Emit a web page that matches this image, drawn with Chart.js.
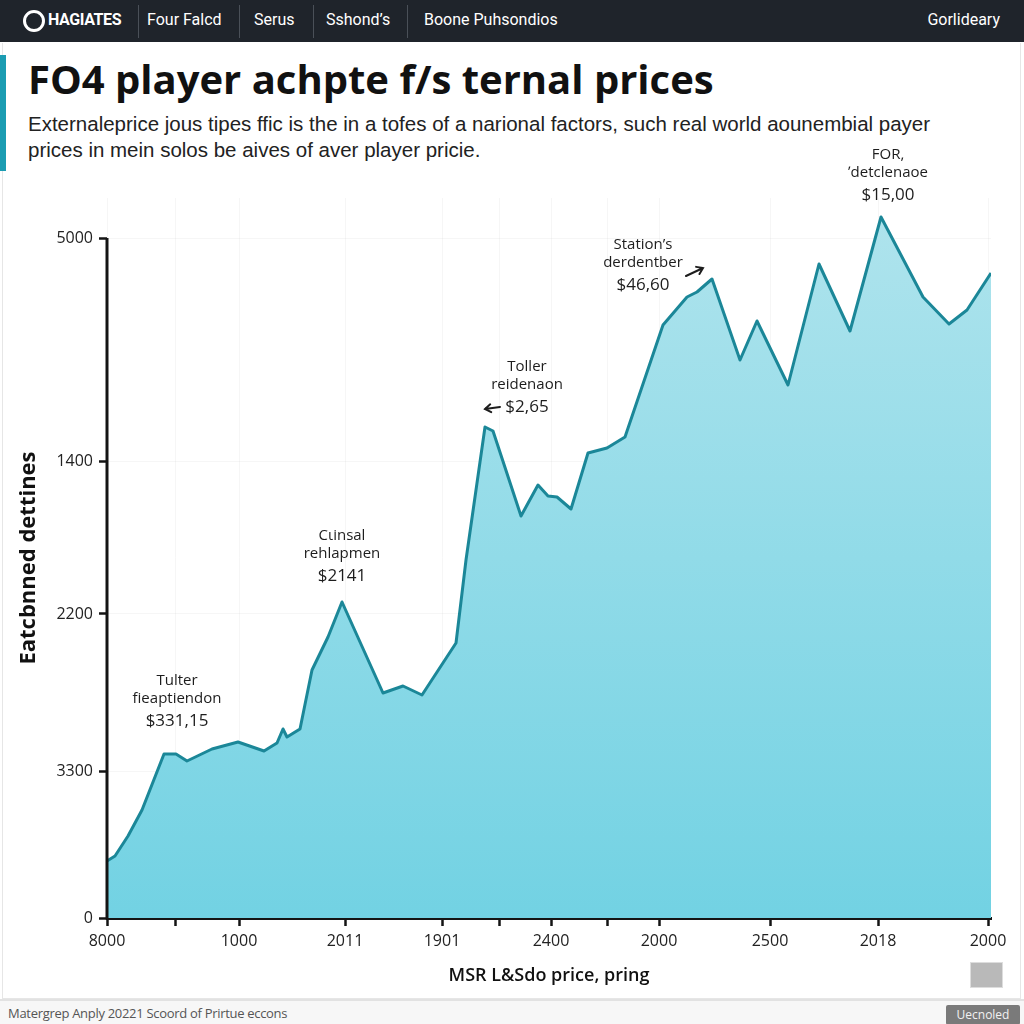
<!DOCTYPE html>
<html>
<head>
<meta charset="utf-8">
<script src="https://cdn.jsdelivr.net/npm/chart.js"></script>
<style>
html, body { margin: 0; padding: 0; }
body { width: 1024px; height: 1024px; position: relative; overflow: hidden; background: #fff; font-family: "Open Sans", sans-serif; }
#topbar { position: absolute; left: 0; top: 0; width: 1024px; height: 42px; background: #1f242b; color: #fff; font-family: Roboto, sans-serif; font-size: 16px; }
#topbar span { position: absolute; top: 0; line-height: 40px; white-space: nowrap; }
#topbar .sep { position: absolute; top: 5px; width: 1px; height: 33px; background: #4a5058; }
#logo { position: absolute; left: 23px; top: 10px; width: 16px; height: 16px; border: 3px solid #fff; border-radius: 50%; }
#panel { position: absolute; left: 2px; top: 43px; width: 1017px; height: 955px; border: 1px solid #e6e6e6; border-top: none; }
#accent { position: absolute; left: 0; top: 55px; width: 6px; height: 116px; background: #1b9cb2; }
#title { position: absolute; left: 28px; top: 51px; font-size: 40px; font-weight: 700; color: #111; letter-spacing: 0; white-space: nowrap; }
#sub { position: absolute; left: 28px; top: 111px; font-family: "Liberation Sans", Arial, sans-serif; font-size: 20.5px; line-height: 26px; color: #222; white-space: nowrap; }
#wrap { position: absolute; left: 0; top: 140px; width: 1024px; height: 850px; }
#icon { position: absolute; left: 970px; top: 962px; width: 31px; height: 24px; background: #b9b9b9; border: 1px solid #ddd; }
#foot { position: absolute; left: 0; top: 999px; width: 1024px; height: 25px; background: #f7f7f7; border-top: 2px solid #e2e2e2; }
#foot .txt { position: absolute; left: 8px; top: 3px; font-size: 13px; color: #555; letter-spacing: -0.3px; }
#foot .btn { position: absolute; left: 946px; top: 4px; width: 74px; height: 20px; background: #7a7a7a; color: #f2f2f2; font-size: 12px; text-align: center; line-height: 20px; border-radius: 2px; }
</style>
</head>
<body>
<div id="topbar">
  <div id="logo"></div>
  <span style="left:48px;font-weight:700;letter-spacing:-0.4px;">HAGIATES</span>
  <div class="sep" style="left:138px"></div>
  <span style="left:147px">Four Falcd</span>
  <div class="sep" style="left:239px"></div>
  <span style="left:254px">Serus</span>
  <div class="sep" style="left:313px"></div>
  <span style="left:326px">Sshond’s</span>
  <div class="sep" style="left:407px"></div>
  <span style="left:424px">Boone Puhsondios</span>
  <span style="right:24px">Gorlideary</span>
</div>
<div id="panel"></div>
<div id="accent"></div>
<div id="title">FO4 player achpte f/s ternal prices</div>
<div id="sub">Externaleprice jous tipes ffic is the in a tofes of a narional factors, such real world aounembial payer<br>prices in mein solos be aives of aver player pricie.</div>
<div id="wrap"><canvas id="lineChart"></canvas></div>
<div id="icon"></div>
<div id="foot">
  <div class="txt">Matergrep Anply 20221 Scoord of Prirtue eccons</div>
  <div class="btn">Uecnoled</div>
</div>
<script>
// price line
const priceX = [0, 8, 21, 35, 57, 69, 80, 105, 131, 157, 170, 176, 180, 193, 205, 221, 235, 276, 296, 315,
    349, 359, 378, 386, 414, 431, 441, 450, 464, 481, 500, 518, 556, 580, 590, 605, 633, 650, 681, 712,
    743, 774, 816, 842, 860, 884];
const priceY = [57, 62, 82, 108, 164, 164, 157, 169, 176, 167, 175, 189, 181, 189, 248, 281, 316, 225, 232, 223,
    275, 358, 491, 487, 402, 433, 422, 421, 409, 465, 470, 481, 593, 621, 626, 639, 558, 597, 533, 654,
    587, 701, 621, 594, 608, 645];

// axis ticks (the labels are not in order on the source chart)
const xTickPos = [0, 68, 132, 238, 335, 392, 444, 500, 552, 663, 771, 881];
const xTickLabels = ['8000', '', '1000', '2011', '1901', '', '2400', '', '2000', '2500', '2018', '2000'];
const yTickPos = [0, 147, 304, 457, 680];
const yTickLabels = ['0', '3300', '2200', '1400', '5000'];

// callouts, tied to a point index
const noteIndex = [4, 16, 22, 35, 41];
const noteText = [
    ['Tulter', 'fieaptiendon', '$331,15'],
    ['Cιinsal', 'rehlapmen', '$2141'],
    ['Toller', 'reidenaon', '$2,65'],
    ['Station’s', 'derdentber', '$46,60'],
    ['FOR,', '\u02BCdetclenaoe', '$15,00']
];

const points = priceX.map((x, i) => ({ x: x, y: priceY[i] }));

// where each callout sits relative to its point
const noteLayout = [
    { dx: 13, dy: -33 },
    { dx: 0, dy: -26 },
    { dx: 42, dy: -20, arrow: [15, -20, 0, -18] },
    { dx: -69, dy: 6, arrow: [-26, -3, -9, -11] },
    { dx: 7, dy: -22 }
];

const calloutPlugin = {
    id: 'callouts',
    afterDatasetsDraw(chart) {
        const ctx = chart.ctx;
        const meta = chart.getDatasetMeta(0);
        ctx.save();
        ctx.fillStyle = '#1d1d1d';
        ctx.textAlign = 'center';
        ctx.textBaseline = 'middle';
        noteIndex.forEach((idx, n) => {
            const pt = meta.data[idx];
            const lay = noteLayout[n];
            const cx = pt.x + lay.dx;
            const cy = pt.y + lay.dy;
            const lines = noteText[n];
            ctx.font = '15px "Open Sans"';
            ctx.fillText(lines[0], cx, cy - 40);
            ctx.fillText(lines[1], cx, cy - 22);
            ctx.font = '17px "Open Sans"';
            ctx.fillText(lines[2], cx, cy);
            if (lay.arrow) {
                const [x1, y1, x2, y2] = lay.arrow;
                const ax = pt.x + x1, ay = pt.y + y1, bx = pt.x + x2, by = pt.y + y2;
                const ang = Math.atan2(by - ay, bx - ax);
                ctx.strokeStyle = '#1d1d1d';
                ctx.lineWidth = 2;
                ctx.lineCap = 'round';
                ctx.beginPath();
                ctx.moveTo(ax, ay);
                ctx.lineTo(bx, by);
                ctx.moveTo(bx - 7 * Math.cos(ang - 0.6), by - 7 * Math.sin(ang - 0.6));
                ctx.lineTo(bx, by);
                ctx.lineTo(bx - 7 * Math.cos(ang + 0.6), by - 7 * Math.sin(ang + 0.6));
                ctx.stroke();
            }
        });
        ctx.restore();
    }
};

// y axis line only runs from the top tick down
const yAxisLine = {
    id: 'yAxisLine',
    afterDatasetsDraw(chart) {
        const y = chart.scales.y;
        const ctx = chart.ctx;
        ctx.save();
        ctx.strokeStyle = '#141414';
        ctx.lineWidth = 3;
        ctx.beginPath();
        ctx.moveTo(y.right, y.getPixelForValue(yTickPos[yTickPos.length - 1]));
        ctx.lineTo(y.right, y.bottom + 1.5);
        ctx.stroke();
        ctx.restore();
    }
};

const lineChart = document.getElementById('lineChart');

new Chart(lineChart, {
    type: 'line',
    data: {
        datasets: [
            {
                label: 'Price',
                data: points,
                borderColor: '#1b8798',
                borderWidth: 3,
                borderJoinStyle: 'round',
                tension: 0,
                pointRadius: 0,
                fill: 'origin',
                backgroundColor: (c) => {
                    const area = c.chart.chartArea;
                    if (!area) return '#8fd9e6';
                    const g = c.chart.ctx.createLinearGradient(0, area.top, 0, area.bottom);
                    g.addColorStop(0, '#b0e4ed');
                    g.addColorStop(1, '#72d2e3');
                    return g;
                }
            }
        ]
    },
    options: {
        responsive: true,
        maintainAspectRatio: false,
        animation: false,
        layout: { padding: { top: 58, right: 33, left: 0, bottom: 0 } },
        plugins: { legend: { display: false }, tooltip: { enabled: false } },
        scales: {
            x: {
                type: 'linear',
                min: 0,
                max: 884,
                afterBuildTicks: (s) => { s.ticks = xTickPos.map(v => ({ value: v })); },
                afterFit: (s) => { s.height = 72; },
                ticks: {
                    autoSkip: false,
                    maxRotation: 0,
                    padding: 6,
                    color: '#222',
                    font: { family: 'Open Sans', size: 16 },
                    callback: (v) => xTickLabels[xTickPos.indexOf(v)]
                },
                grid: { color: 'rgba(0,0,0,0.035)', tickColor: '#141414', tickWidth: 2.5, tickLength: 8 },
                border: { display: true, color: '#141414', width: 3 },
                title: {
                    display: true,
                    text: 'MSR L&Sdo price, pring',
                    color: '#111',
                    font: { family: 'Open Sans', size: 18, weight: '600' },
                    padding: { top: 4, bottom: 3 }
                }
            },
            y: {
                min: 0,
                max: 720,
                afterBuildTicks: (s) => { s.ticks = yTickPos.map(v => ({ value: v })); },
                afterFit: (s) => { s.width = 107; },
                ticks: {
                    padding: 6,
                    color: '#222',
                    font: { family: 'Open Sans', size: 16 },
                    callback: (v) => yTickLabels[yTickPos.indexOf(v)]
                },
                grid: { color: 'rgba(0,0,0,0.035)', tickColor: '#141414', tickWidth: 2.5, tickLength: 8 },
                border: { display: false },
                title: {
                    display: true,
                    text: 'Eatcbnned dettines',
                    color: '#111',
                    font: { family: 'Open Sans', size: 22, weight: '700' },
                    padding: { top: 16, bottom: 0 }
                }
            }
        }
    },
    plugins: [calloutPlugin, yAxisLine]
});
</script>
</body>
</html>
